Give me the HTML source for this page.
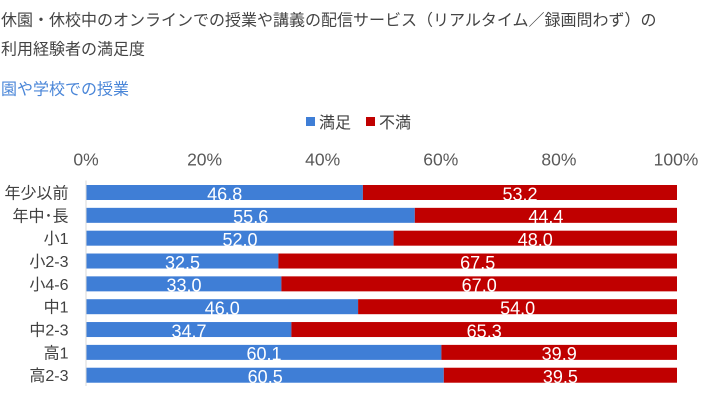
<!DOCTYPE html>
<html>
<head>
<meta charset="utf-8">
<style>
  html,body{margin:0;padding:0;background:#fff;}
  svg{display:block;}
  text{font-family:"Liberation Sans","Noto Sans CJK JP",sans-serif;}
</style>
</head>
<body>
<svg width="708" height="405" viewBox="0 0 708 405" xmlns="http://www.w3.org/2000/svg">
  <rect width="708" height="405" fill="#fff"/>
  <!-- Titles -->
  <text x="1" y="25.5" font-size="16" fill="#444444">休園・休校中のオンラインでの授業や講義の配信サービス（リアルタイム／録画問わず）の</text>
  <text x="1" y="54.5" font-size="16" fill="#444444">利用経験者の満足度</text>
  <text x="1" y="94.5" font-size="16" fill="#4a86d8">園や学校での授業</text>

  <!-- Legend -->
  <rect x="306" y="117" width="9" height="9" fill="#3F7ED6"/>
  <text x="319" y="128" font-size="16" fill="#404040">満足</text>
  <rect x="366" y="117" width="9" height="9" fill="#C00000"/>
  <text x="379" y="128" font-size="16" fill="#404040">不満</text>

  <!-- Tick labels -->
  <g font-size="17.5" fill="#595959" text-anchor="middle">
    <text x="86" y="165.5">0%</text>
    <text x="204.6" y="165.5">20%</text>
    <text x="322.7" y="165.5">40%</text>
    <text x="440.8" y="165.5">60%</text>
    <text x="558.9" y="165.5">80%</text>
    <text x="676" y="165.5">100%</text>
  </g>

  <!-- Axis line -->
  <line x1="86" y1="180.5" x2="86" y2="386" stroke="#d9d9d9" stroke-width="1"/>

  <!-- Bars -->
  <g id="bars">
    <rect x="86.5" y="185" width="276.4" height="15" fill="#3F7ED6"/>
    <rect x="362.9" y="185" width="314.1" height="15" fill="#C00000"/>
    <rect x="86.5" y="207.84" width="328.3" height="15" fill="#3F7ED6"/>
    <rect x="414.8" y="207.84" width="262.2" height="15" fill="#C00000"/>
    <rect x="86.5" y="230.68" width="307.1" height="15" fill="#3F7ED6"/>
    <rect x="393.6" y="230.68" width="283.4" height="15" fill="#C00000"/>
    <rect x="86.5" y="253.52" width="191.9" height="15" fill="#3F7ED6"/>
    <rect x="278.4" y="253.52" width="398.6" height="15" fill="#C00000"/>
    <rect x="86.5" y="276.36" width="194.9" height="15" fill="#3F7ED6"/>
    <rect x="281.4" y="276.36" width="395.6" height="15" fill="#C00000"/>
    <rect x="86.5" y="299.2" width="271.6" height="15" fill="#3F7ED6"/>
    <rect x="358.1" y="299.2" width="318.9" height="15" fill="#C00000"/>
    <rect x="86.5" y="322.04" width="204.9" height="15" fill="#3F7ED6"/>
    <rect x="291.4" y="322.04" width="385.6" height="15" fill="#C00000"/>
    <rect x="86.5" y="344.88" width="354.9" height="15" fill="#3F7ED6"/>
    <rect x="441.4" y="344.88" width="235.6" height="15" fill="#C00000"/>
    <rect x="86.5" y="367.72" width="357.3" height="15" fill="#3F7ED6"/>
    <rect x="443.8" y="367.72" width="233.2" height="15" fill="#C00000"/>
  </g>

  <!-- Category labels -->
  <g font-size="16" fill="#404040" text-anchor="end">
    <text x="68.5" y="198.5">年少以前</text>
    <text x="68.5" y="221.3">年中･長</text>
    <text x="68.5" y="244.2">小1</text>
    <text x="68.5" y="267">小2-3</text>
    <text x="68.5" y="289.9">小4-6</text>
    <text x="68.5" y="312.7">中1</text>
    <text x="68.5" y="335.5">中2-3</text>
    <text x="68.5" y="358.4">高1</text>
    <text x="68.5" y="381.2">高2-3</text>
  </g>

  <!-- Data labels -->
  <g font-size="18" fill="#ffffff" text-anchor="middle">
    <text x="224.7" y="200.3">46.8</text>
    <text x="520" y="200.3">53.2</text>
    <text x="250.7" y="223.1">55.6</text>
    <text x="545.9" y="223.1">44.4</text>
    <text x="240" y="246">52.0</text>
    <text x="535.3" y="246">48.0</text>
    <text x="182.5" y="268.8">32.5</text>
    <text x="477.7" y="268.8">67.5</text>
    <text x="184" y="291.7">33.0</text>
    <text x="479.2" y="291.7">67.0</text>
    <text x="222.3" y="314.5">46.0</text>
    <text x="517.6" y="314.5">54.0</text>
    <text x="189" y="337.3">34.7</text>
    <text x="484.2" y="337.3">65.3</text>
    <text x="264" y="360.2">60.1</text>
    <text x="559.2" y="360.2">39.9</text>
    <text x="265.2" y="383">60.5</text>
    <text x="560.4" y="383">39.5</text>
  </g>
</svg>
</body>
</html>
